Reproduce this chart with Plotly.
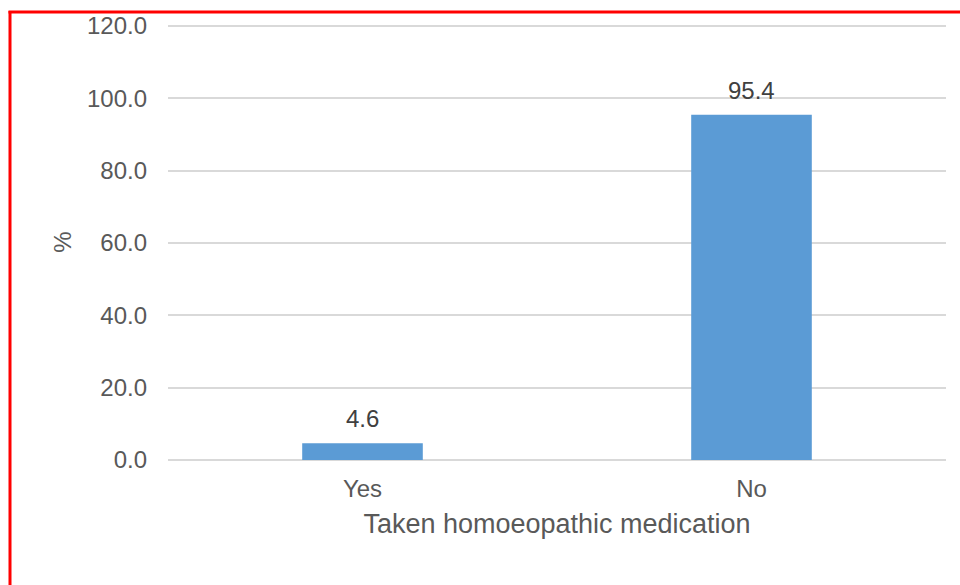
import plotly.graph_objects as go

categories = ["Yes", "No"]
percent = [4.6, 95.4]
y_ticks = [0, 20, 40, 60, 80, 100, 120]

W, H = 960, 585
L, R, T, B = 168, 14, 24, 125
pw, ph = W - L - R, H - T - B

def px_x(x):
    return (x - L) / pw

def px_y(y):
    return (H - B - y) / ph

FONT = "Liberation Sans, Arial, sans-serif"

fig = go.Figure(
    go.Bar(
        x=categories,
        y=percent,
        marker=dict(color="#5B9BD5", line=dict(width=0)),
        cliponaxis=False,
    )
)

# value labels above each bar
for cat, val in zip(categories, percent):
    fig.add_annotation(
        x=cat, y=val, text=f"{val:.1f}", showarrow=False,
        xanchor="center", yanchor="bottom", yshift=9,
        font=dict(family=FONT, size=24, color="#404040"),
    )

fig.update_layout(
    width=W,
    height=H,
    margin=dict(l=L, r=R, t=T, b=B),
    paper_bgcolor="white",
    plot_bgcolor="white",
    bargap=0.69,
    showlegend=False,
    font=dict(family=FONT, color="#595959"),
    xaxis=dict(
        showgrid=False,
        showline=False,
        zeroline=False,
        tickfont=dict(family=FONT, size=24, color="#595959"),
        ticklabelstandoff=12,
        title=dict(text="Taken homoeopathic medication",
                   font=dict(family=FONT, size=27, color="#595959"), standoff=13),
    ),
    yaxis=dict(
        range=[0, 120.5],
        tickvals=y_ticks,
        tickformat=".1f",
        showgrid=True,
        gridcolor="#D9D9D9",
        gridwidth=1.5,
        zeroline=True,
        zerolinecolor="#D9D9D9",
        zerolinewidth=1.5,
        showline=False,
        tickfont=dict(family=FONT, size=24, color="#595959"),
        ticklabelstandoff=20,
        title=dict(text="%", font=dict(family=FONT, size=24, color="#595959"), standoff=8),
    ),
    shapes=[
        dict(type="line", xref="paper", yref="paper",
             x0=px_x(10), x1=px_x(10), y0=px_y(11), y1=px_y(H + 5),
             line=dict(color="#FF0000", width=3)),
        dict(type="line", xref="paper", yref="paper",
             x0=px_x(8.5), x1=px_x(W + 5), y0=px_y(12), y1=px_y(12),
             line=dict(color="#FF0000", width=3)),
    ],
)

fig.write_html("out.html")
